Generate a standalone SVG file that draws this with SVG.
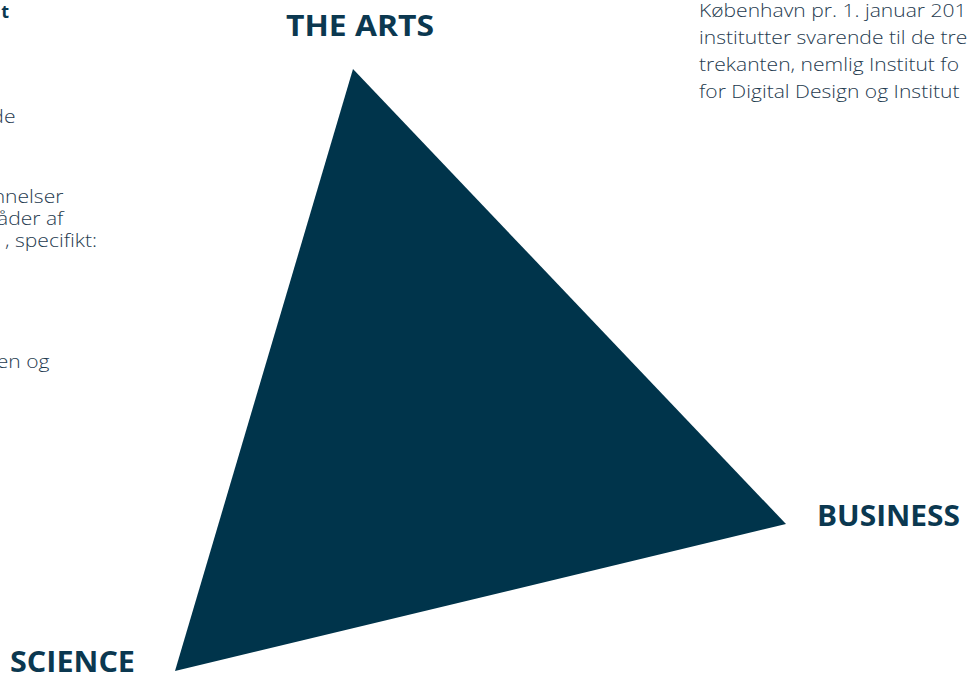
<svg xmlns="http://www.w3.org/2000/svg" width="968" height="673" viewBox="0 0 968 673">
<style>
.body{font-family:"Open Sans","Noto Sans",sans-serif;font-size:18px;font-weight:300;fill:#1f3b4f}
.lbl{font-family:"Open Sans","Noto Sans",sans-serif;font-size:28px;font-weight:700;fill:#0b3850}
</style>
<rect width="968" height="673" fill="#ffffff"/>
<g id="left-text">
<text class="body" x="9" y="18" text-anchor="end" style="font-weight:700;fill:#0b3850">t</text>
<g transform="scale(1.17 1)">
<text class="body" x="13.2" y="123" text-anchor="end">de</text>
<text class="body" x="54.2" y="203" text-anchor="end">nnelser</text>
<text class="body" x="54.2" y="225" text-anchor="end">åder af</text>
<text class="body" x="82.9" y="247" text-anchor="end">, specifikt:</text>
<text class="body" x="42.3" y="368" text-anchor="end">en og</text>
</g>
</g>
<g id="right-text" transform="translate(699 0) scale(1.17 1)">
<text class="body" x="0" y="17">København pr. 1. januar 201</text>
<text class="body" x="0" y="44">institutter svarende til de tre</text>
<text class="body" x="0" y="71">trekanten, nemlig Institut fo</text>
<text class="body" x="0" y="98">for Digital Design og Institut</text>
</g>
<g id="triangle">
<polygon points="353,69 786,524 175,671" fill="#00344b"/>
</g>
<g id="label-arts"><text class="lbl" x="286" y="36" textLength="148" lengthAdjust="spacingAndGlyphs">THE ARTS</text></g>
<g id="label-business"><text class="lbl" x="817" y="526" textLength="143" lengthAdjust="spacingAndGlyphs">BUSINESS</text></g>
<g id="label-science"><text class="lbl" x="10" y="672" textLength="125" lengthAdjust="spacingAndGlyphs">SCIENCE</text></g>
<g id="connectors"></g>
</svg>
